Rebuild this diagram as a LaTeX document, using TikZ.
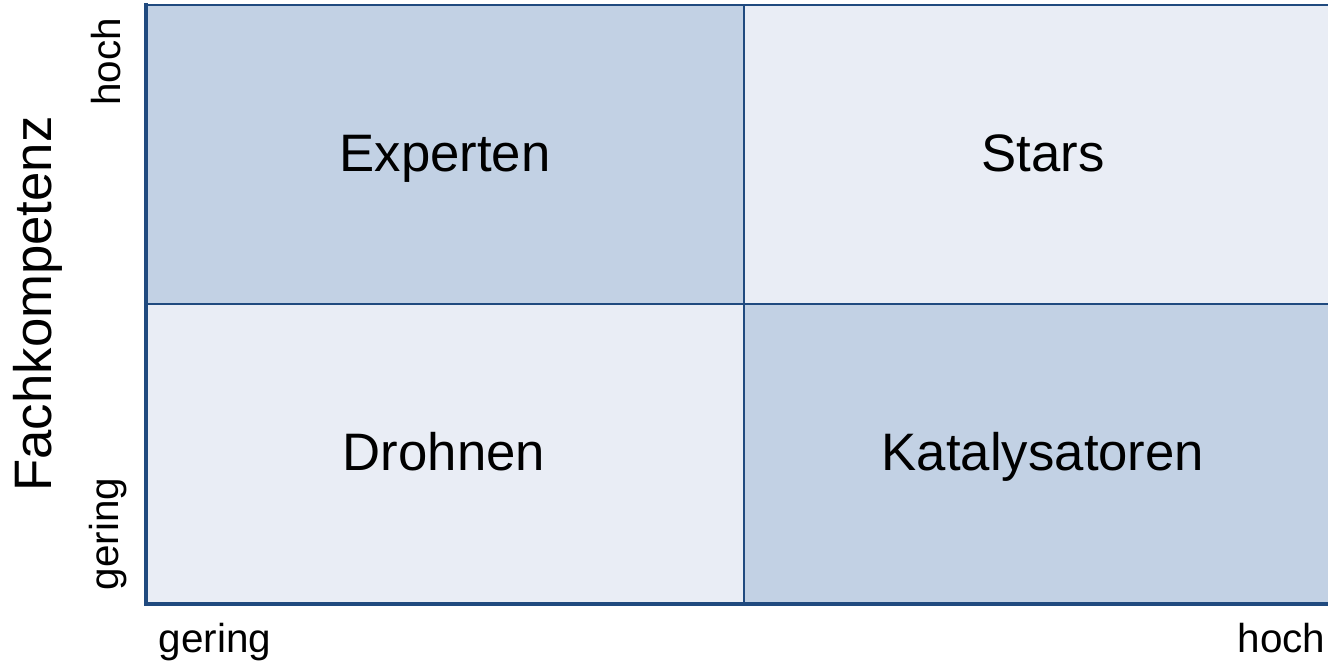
\documentclass[tikz,border=0pt]{standalone}
\usepackage{fontspec}
\setmainfont{Liberation Sans}
\definecolor{quaddark}{HTML}{C2D1E4}
\definecolor{quadlight}{HTML}{E9EDF5}
\definecolor{axisblue}{HTML}{204A7F}
\begin{document}
\begin{tikzpicture}[every node/.style={inner sep=0pt},
	biglabel/.style={font=\fontsize{15}{18}\selectfont,anchor=base},
	smalllabel/.style={font=\fontsize{11.5}{14}\selectfont}]
		\useasboundingbox (0,0) rectangle (13.28,6.64);
		
		% corner points of the matrix
		\coordinate (o) at (1.46,0.60);
		\coordinate (top) at (1.46,6.59);
		\coordinate (right) at (13.40,0.60);
		\coordinate (topright) at (13.40,6.59);
		\coordinate (midb) at (7.44,0.60);
		\coordinate (midt) at (7.44,6.59);
		\coordinate (midl) at (1.46,3.60);
		\coordinate (midr) at (13.40,3.60);
		
		% draw the four quadrants
		\fill[quaddark] (midl) rectangle (midt);
		\fill[quadlight] (7.44,3.60) rectangle (topright);
		\fill[quadlight] (o) rectangle (7.44,3.60);
		\fill[quaddark] (midb) rectangle (midr);
		
		% draw inner lines and top border
		\draw[axisblue,line width=0.6pt] (midb) -- (midt);
		\draw[axisblue,line width=0.6pt] (midl) -- (midr);
		\draw[axisblue,line width=0.7pt] (top) -- (topright);
		
		% draw axes
		\draw[axisblue,line width=1.3pt,line cap=rect] (top) -- (o) -- (right);
		
		% quadrant names
		\node[biglabel] (experten) at (4.45,4.92) {Experten};
		\node[biglabel] (stars) at (10.43,4.92) {Stars};
		\node[biglabel] (drohnen) at (4.44,1.93) {Drohnen};
		\node[biglabel] (katalysatoren) at (10.43,1.93) {Katalysatoren};
		
		% axis labels
		\node[biglabel,rotate=90] (fach) at (0.52,3.60) {Fachkompetenz};
		\node[smalllabel,rotate=90,anchor=base] (yhoch) at (1.20,6.02) {hoch};
		\node[smalllabel,rotate=90,anchor=base] (ygering) at (1.19,1.30) {gering};
		\node[smalllabel,anchor=base] (xgering) at (2.15,0.12) {gering};
		\node[smalllabel,anchor=base east] (xhoch) at (13.26,0.12) {hoch};
\end{tikzpicture}
\end{document}
